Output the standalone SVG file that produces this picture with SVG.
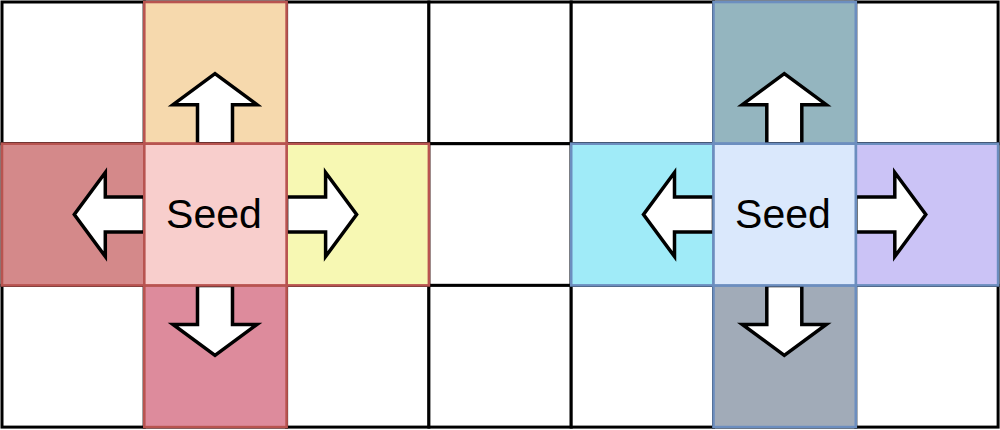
<svg xmlns="http://www.w3.org/2000/svg" xmlns:xlink="http://www.w3.org/1999/xlink" width="1000" height="430" viewBox="0 0 1000 430">
  <style>
    .g { fill: #ffffff; stroke: #000000; stroke-width: 3; }
    .r { stroke: #b85450; stroke-width: 2.6; }
    .b { stroke: #6c8ebf; stroke-width: 2.6; }
    .arrow { fill: #ffffff; stroke: #000000; stroke-width: 3.5; stroke-linejoin: miter; }
    .lbl { font-family: "Liberation Sans", Arial, Helvetica, sans-serif; font-size: 41px; fill: #000000; text-anchor: middle; }
  </style>
  <defs>
    <path id="arr" d="M0,-17.5 H39 V-42 L70,0 L39,42 V17.5 H0 Z"/>
  </defs>
  <rect width="1000" height="430" fill="#ffffff"/>
  <g id="grid">
    <rect class="g" x="2" y="2" width="142.3" height="141.7"/>
    <rect class="g" x="144.3" y="2" width="142.3" height="141.7"/>
    <rect class="g" x="286.6" y="2" width="142.3" height="141.7"/>
    <rect class="g" x="428.9" y="2" width="142.3" height="141.7"/>
    <rect class="g" x="571.2" y="2" width="142.3" height="141.7"/>
    <rect class="g" x="713.5" y="2" width="142.3" height="141.7"/>
    <rect class="g" x="855.8" y="2" width="142.3" height="141.7"/>
    <rect class="g" x="2" y="143.7" width="142.3" height="141.7"/>
    <rect class="g" x="144.3" y="143.7" width="142.3" height="141.7"/>
    <rect class="g" x="286.6" y="143.7" width="142.3" height="141.7"/>
    <rect class="g" x="428.9" y="143.7" width="142.3" height="141.7"/>
    <rect class="g" x="571.2" y="143.7" width="142.3" height="141.7"/>
    <rect class="g" x="713.5" y="143.7" width="142.3" height="141.7"/>
    <rect class="g" x="855.8" y="143.7" width="142.3" height="141.7"/>
    <rect class="g" x="2" y="285.4" width="142.3" height="141.7"/>
    <rect class="g" x="144.3" y="285.4" width="142.3" height="141.7"/>
    <rect class="g" x="286.6" y="285.4" width="142.3" height="141.7"/>
    <rect class="g" x="428.9" y="285.4" width="142.3" height="141.7"/>
    <rect class="g" x="571.2" y="285.4" width="142.3" height="141.7"/>
    <rect class="g" x="713.5" y="285.4" width="142.3" height="141.7"/>
    <rect class="g" x="855.8" y="285.4" width="142.3" height="141.7"/>
  </g>
  <g id="red-neighbours">
    <rect id="red-up" class="r" x="144.3" y="2" width="142.3" height="141.7" fill="#f6d9ad"/>
    <rect id="red-left" class="r" x="2" y="143.7" width="142.3" height="141.7" fill="#d4898a"/>
    <rect id="red-right" class="r" x="286.6" y="143.7" width="142.3" height="141.7" fill="#f7f8b3"/>
    <rect id="red-down" class="r" x="144.3" y="285.4" width="142.3" height="141.7" fill="#dd8b9c"/>
  </g>
  <g id="blue-neighbours">
    <rect id="blue-up" class="b" x="713.5" y="2" width="142.3" height="141.7" fill="#94b5bf"/>
    <rect id="blue-left" class="b" x="571.2" y="143.7" width="142.3" height="141.7" fill="#a0ebf8"/>
    <rect id="blue-right" class="b" x="855.8" y="143.7" width="142.3" height="141.7" fill="#cbc3f6"/>
    <rect id="blue-down" class="b" x="713.5" y="285.4" width="142.3" height="141.7" fill="#a1abb8"/>
  </g>
  <g id="connectors">
    <use xlink:href="#arr" class="arrow" transform="translate(215,143.7) rotate(-90)"/>
    <use xlink:href="#arr" class="arrow" transform="translate(144.3,214.5) rotate(180)"/>
    <use xlink:href="#arr" class="arrow" transform="translate(286.6,214.5)"/>
    <use xlink:href="#arr" class="arrow" transform="translate(215,285.4) rotate(90)"/>
    <use xlink:href="#arr" class="arrow" transform="translate(784.3,143.7) rotate(-90)"/>
    <use xlink:href="#arr" class="arrow" transform="translate(713.5,214.5) rotate(180)"/>
    <use xlink:href="#arr" class="arrow" transform="translate(855.8,214.5)"/>
    <use xlink:href="#arr" class="arrow" transform="translate(784.3,285.4) rotate(90)"/>
  </g>
  <g id="seed-red">
    <rect class="r" x="144.3" y="143.7" width="142.3" height="141.7" fill="#f8cecc"/>
    <text class="lbl" x="214" y="228">Seed</text>
  </g>
  <g id="seed-blue">
    <rect class="b" x="713.5" y="143.7" width="142.3" height="141.7" fill="#dae8fc"/>
    <text class="lbl" x="783" y="228">Seed</text>
  </g>
</svg>
